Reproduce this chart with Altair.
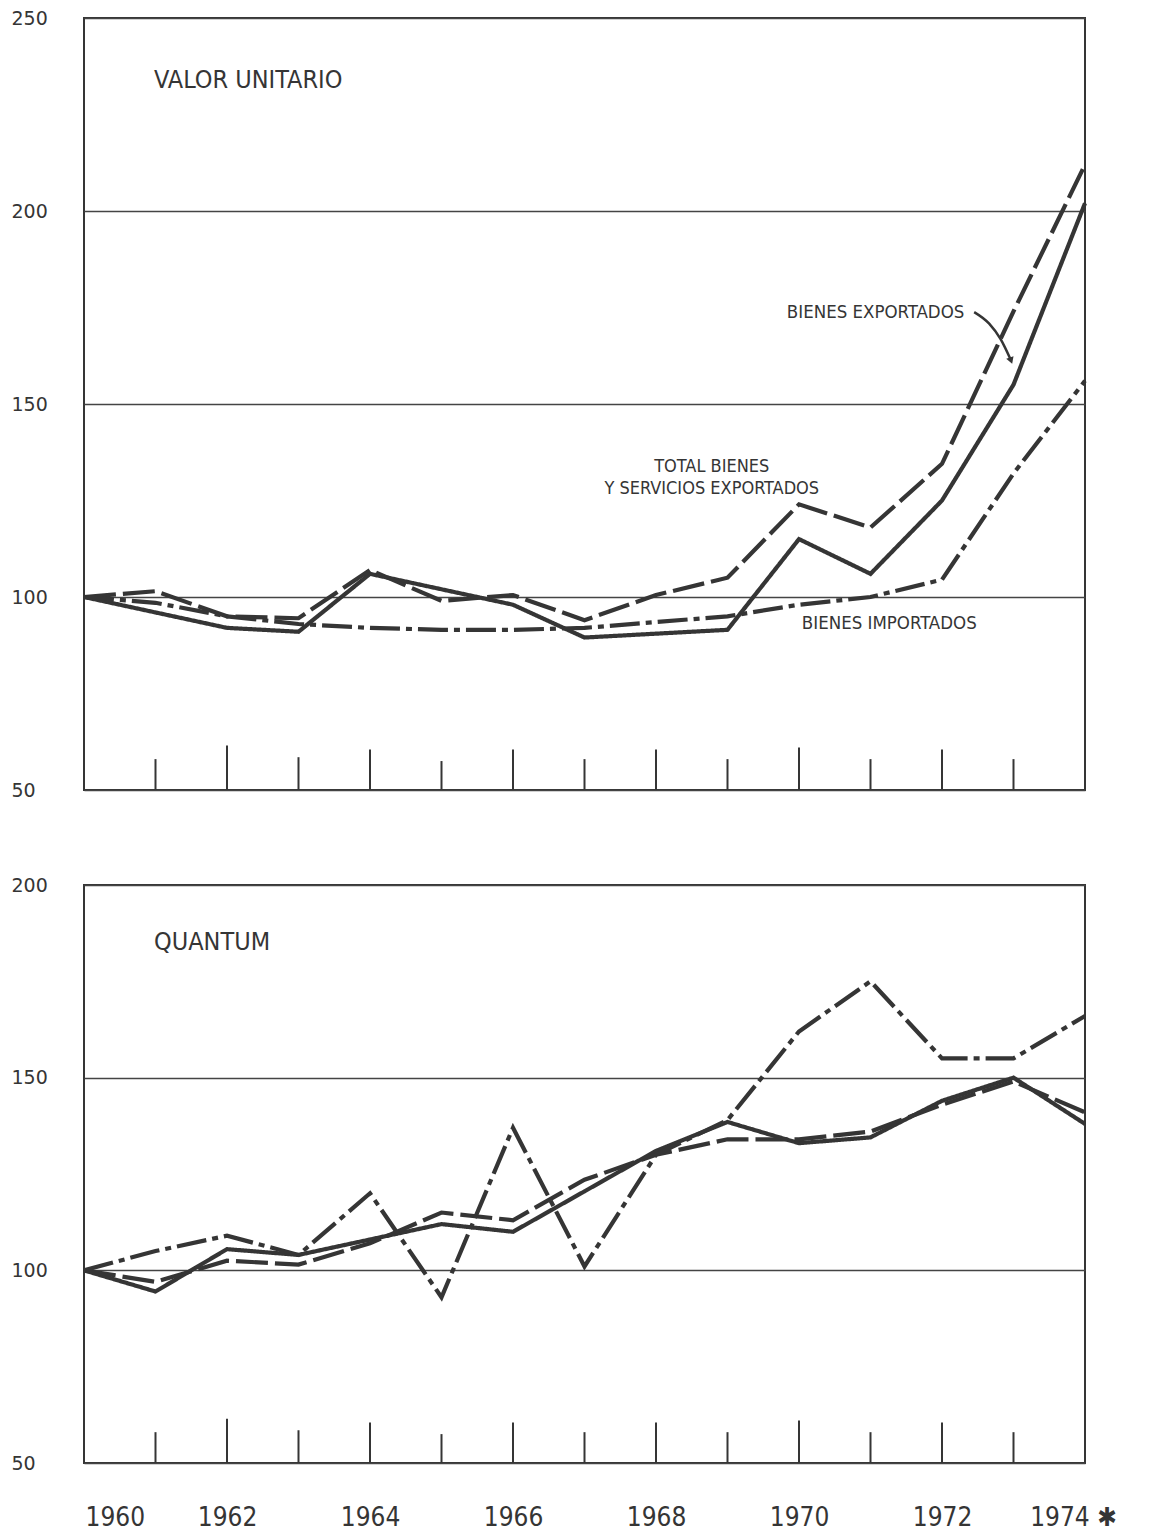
import json
import altair as alt
import pandas as pd

FONT = "Liberation Sans Narrow, DejaVu Sans Condensed, Arial Narrow, sans-serif"
INK = "#353535"

years = list(range(1960, 1975))
series_names = ["Bienes exportados", "Total bienes y servicios exportados", "Bienes importados"]

# ---- Valor unitario (1960 = 100)
vu_bienes_exp = [100, 96, 92, 91, 106, 102, 98, 89.5, 90.5, 91.5, 115, 106, 125, 155, 202]
vu_total_exp = [100, 101.5, 95, 94.5, 107, 99, 100.5, 94, 100.5, 105, 124, 118, 134.5, 174, 212]
vu_bienes_imp = [100, 98.5, 95, 93, 92, 91.5, 91.5, 92, 93.5, 95, 98, 100, 104.5, 132, 156]

# ---- Quantum (1960 = 100)
q_bienes_exp = [100, 94.5, 105.5, 104, 108, 112, 110, 120.5, 131, 138.5, 133, 134.5, 144, 150, 138]
q_total_exp = [100, 97, 102.5, 101.5, 107, 115, 113, 123.5, 130, 134, 134, 136, 143, 149, 141]
q_bienes_imp = [100, 105, 109, 104, 120, 93, 137, 101, 130, 139, 162, 175, 155, 155, 166]

# inner tick marks along the bottom edge
tick_years = [1961, 1962, 1963, 1964, 1965, 1966, 1967, 1968, 1969, 1970, 1971, 1972, 1973]
tick_len = [8, 11.5, 8.5, 10.5, 7.5, 10.5, 8, 10.5, 8, 11, 8, 10.5, 8]

# axis labels
vu_y_ticks = [50, 100, 150, 200, 250]
q_y_ticks = [50, 100, 150, 200]
x_label_years = [1960, 1962, 1964, 1966, 1968, 1970, 1972, 1974]
x_label_text = ["1960", "1962", "1964", "1966", "1968", "1970", "1972", "1974 \u2731"]

# annotations
vu_title = "VALOR UNITARIO"
q_title = "QUANTUM"
vu_notes_text = ["BIENES EXPORTADOS", "BIENES IMPORTADOS"]
vu_notes_x = [1969.83, 1970.04]
vu_notes_y = [173.8, 93.3]
vu_center_text = ["TOTAL  BIENES", "Y SERVICIOS EXPORTADOS"]
vu_center_x = [1968.78, 1968.78]
vu_center_y = [133.7, 128.0]
arrow_x = [1972.45, 1972.66, 1972.82, 1972.96]
arrow_y = [173.8, 170.8, 166.8, 161.5]


def long_df(a, b, c):
    rows = []
    for name, vals in zip(series_names, [a, b, c]):
        for yr, v in zip(years, vals):
            rows.append({"anio": yr, "valor": v, "serie": name})
    return pd.DataFrame(rows)


ticks_df = pd.DataFrame({"anio": tick_years, "base": [50] * len(tick_years),
                         "tope": [50 + t for t in tick_len]})

label_expr = "{}[indexof({}, datum.value)]".format(json.dumps(x_label_text), json.dumps(x_label_years))


def panel(df, ymax, yvals, h, title, title_y, show_x, notes=None, center=None, arrow=False):
    xs = alt.Scale(domain=[1960, 1974], nice=False, zero=False)
    ys = alt.Scale(domain=[50, ymax], nice=False, zero=False)
    if show_x:
        xaxis = alt.Axis(values=x_label_years, labelExpr=label_expr, title=None, grid=False,
                         ticks=False, domain=False, labelFlush=False, labelPadding=41,
                         labelFont=FONT, labelFontSize=26, labelColor=INK,
                         labelAlign={"condition": {"test": "datum.value == 1960", "value": "left"},
                                     "value": "center"},
                         labelOffset={"condition": [{"test": "datum.value == 1960", "value": 1},
                                                    {"test": "datum.value == 1974", "value": -12}],
                                      "value": 0})
    else:
        xaxis = None
    yaxis = alt.Axis(values=yvals, title=None, ticks=False, domain=False, grid=True,
                     gridColor="#444444", gridWidth=1.4, labelAlign="left", labelPadding=73,
                     labelFont="DejaVu Sans", labelFontSize=19, labelColor=INK,
                     labelBaseline="middle")
    X = alt.X("anio:Q", scale=xs, axis=xaxis)
    lines = alt.Chart(df).mark_line(color=INK, strokeWidth=4.2, strokeCap="butt",
                                    strokeJoin="miter").encode(
        x=X,
        y=alt.Y("valor:Q", scale=ys, axis=yaxis),
        strokeDash=alt.StrokeDash("serie:N", scale=alt.Scale(
            domain=series_names, range=[[1, 0], [32, 7], [30, 6, 6, 6]]), legend=None),
        detail="serie:N",
    )
    ticks = alt.Chart(ticks_df).mark_rule(color=INK, strokeWidth=2).encode(
        x=alt.X("anio:Q", scale=xs), y=alt.Y("base:Q", scale=ys), y2="tope:Q")
    title_df = pd.DataFrame({"t": [title], "x": [1960.98], "y": [title_y]})
    ttl = alt.Chart(title_df).mark_text(align="left", baseline="middle", font=FONT,
                                        fontSize=25, color=INK).encode(
        x=alt.X("x:Q", scale=xs), y=alt.Y("y:Q", scale=ys), text="t:N")
    layers = [lines, ticks, ttl]
    if notes is not None:
        ndf = pd.DataFrame({"t": notes[0], "x": notes[1], "y": notes[2]})
        layers.append(alt.Chart(ndf).mark_text(align="left", baseline="middle", font=FONT,
                                               fontSize=18.5, color=INK).encode(
            x=alt.X("x:Q", scale=xs), y=alt.Y("y:Q", scale=ys), text="t:N"))
    if center is not None:
        cdf = pd.DataFrame({"t": center[0], "x": center[1], "y": center[2]})
        layers.append(alt.Chart(cdf).mark_text(align="center", baseline="middle", font=FONT,
                                               fontSize=18, color=INK).encode(
            x=alt.X("x:Q", scale=xs), y=alt.Y("y:Q", scale=ys), text="t:N"))
    if arrow:
        adf = pd.DataFrame({"x": arrow_x, "y": arrow_y, "o": list(range(len(arrow_x)))})
        layers.append(alt.Chart(adf).mark_line(color=INK, strokeWidth=2.5,
                                               interpolate="monotone").encode(
            x=alt.X("x:Q", scale=xs), y=alt.Y("y:Q", scale=ys), order="o:Q"))
        hdf = adf.tail(1)
        layers.append(alt.Chart(hdf).mark_point(shape="triangle", angle=160, filled=True,
                                                size=60, color=INK, opacity=1).encode(
            x=alt.X("x:Q", scale=xs), y=alt.Y("y:Q", scale=ys)))
    return alt.layer(*layers).properties(width=1001, height=h)


top = panel(long_df(vu_bienes_exp, vu_total_exp, vu_bienes_imp), 250, vu_y_ticks, 772,
            vu_title, 234, False,
            notes=(vu_notes_text, vu_notes_x, vu_notes_y),
            center=(vu_center_text, vu_center_x, vu_center_y), arrow=True)
bottom = panel(long_df(q_bienes_exp, q_total_exp, q_bienes_imp), 200, q_y_ticks, 578,
               q_title, 185.2, True)

chart = alt.vconcat(top, bottom, spacing=95, bounds="flush").properties(
    padding={"left": 2, "top": 0, "right": 20, "bottom": 5},
    background="white",
).configure_view(stroke=INK, strokeWidth=2)

chart.save("out.html", embed_options={"renderer": "svg", "actions": False})
